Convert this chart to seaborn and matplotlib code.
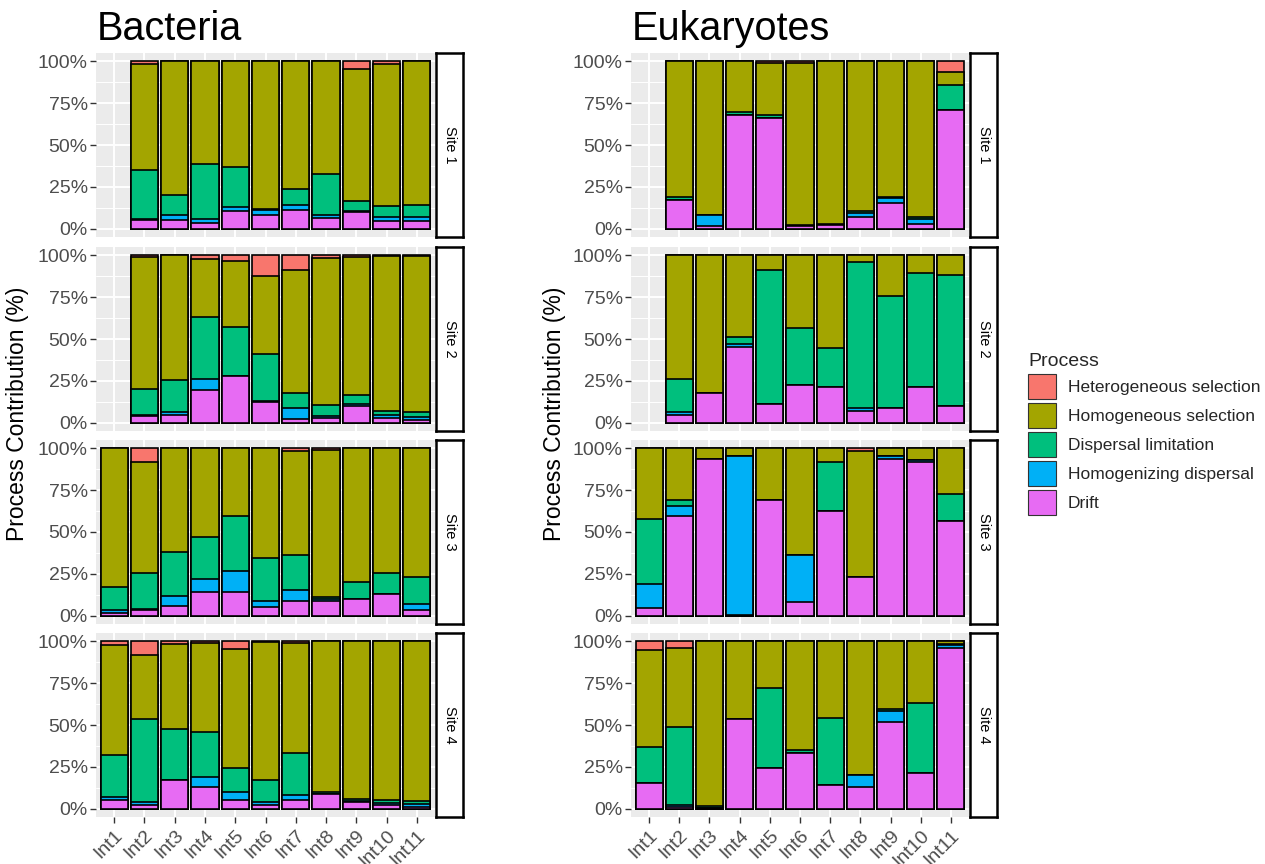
import numpy as np
import pandas as pd
import matplotlib
matplotlib.use("Agg")
import matplotlib.pyplot as plt
from matplotlib.patches import Patch
import seaborn as sns

INTERVALS = ['Int1', 'Int2', 'Int3', 'Int4', 'Int5', 'Int6',
             'Int7', 'Int8', 'Int9', 'Int10', 'Int11']
SITES = ['Site 1', 'Site 2', 'Site 3', 'Site 4']
PROCESSES = ['Heterogeneous selection', 'Homogeneous selection',
             'Dispersal limitation', 'Homogenizing dispersal', 'Drift']
COLORS = ['#F8766D', '#A3A500', '#00BF7D', '#00B0F6', '#E76BF3']
nan = np.nan

# 每个面板: 各过程贡献 (%)，顺序 Int1..Int11；nan = 该区间无数据
# 顺序: 异质选择, 同质选择, 扩散限制, 同质化扩散, 漂变
bac_site1 = {
    'het':   [nan, 1.5, 0, 0, 0, 0, 0, 0, 4.4, 1.8, 0],
    'hom':   [nan, 63.5, 80, 61.3, 63, 88, 76.6, 67.3, 79.2, 84.8, 86],
    'disp':  [nan, 29, 11.6, 32.7, 24, 1, 9.4, 24.8, 5.6, 6.6, 7],
    'hdisp': [nan, 1, 3, 2.6, 2.6, 3, 3, 1.5, 1, 2, 2.6],
    'drift': [nan, 5, 5.4, 3.4, 10.4, 8, 11, 6.4, 9.8, 4.8, 4.4],
}
bac_site2 = {
    'het':   [nan, 1, 0, 2, 3.4, 12.5, 8.5, 1.3, 1.2, 0.3, 0.3],
    'hom':   [nan, 79, 74.8, 34.7, 39.3, 46.6, 73.5, 88, 82.4, 93, 93.3],
    'disp':  [nan, 15.4, 18.9, 37.3, 29.7, 27.9, 9, 6.5, 5.2, 2.4, 3],
    'hdisp': [nan, 0.8, 1.5, 6.4, 0, 0.7, 6.6, 1.4, 1.5, 1.5, 2],
    'drift': [nan, 3.8, 4.8, 19.6, 27.6, 12.3, 2.4, 2.8, 9.7, 2.8, 1.4],
}
bac_site3 = {
    'het':   [0, 8, 0, 0, 0, 0, 1.4, 0.8, 0, 0, 0],
    'hom':   [82.8, 66.7, 62, 52.7, 40.3, 65.3, 62.6, 88, 79.8, 74.7, 77],
    'disp':  [14, 21.5, 26.2, 25.5, 33.3, 25.9, 20.4, 1.4, 10, 12.5, 16.2],
    'hdisp': [1.4, 0.6, 6, 7.4, 12, 3.4, 6.8, 1, 0, 0, 3.6],
    'drift': [1.8, 3.2, 5.8, 14.4, 14.4, 5.4, 8.8, 8.8, 10.2, 12.8, 3.2],
}
bac_site4 = {
    'het':   [2, 8.4, 1.5, 1, 4.4, 0.2, 0.8, 0, 0, 0, 0],
    'hom':   [65.7, 37.9, 50.8, 53.3, 71.2, 82.4, 66.2, 90, 94, 95, 95.6],
    'disp':  [25.5, 49.7, 30.3, 26.9, 14.6, 13.6, 25, 1, 1.4, 1.5, 1.5],
    'hdisp': [1.8, 2, 0, 5.8, 4.8, 1.4, 3, 0, 0.8, 1.5, 1.8],
    'drift': [5, 2, 17.4, 13, 5, 2.4, 5, 9, 3.8, 2, 1.1],
}
euk_site1 = {
    'het':   [nan, 0, 0, 0, 0.8, 0.8, 0, 0, 0, 0, 6.2],
    'hom':   [nan, 81.2, 91.6, 30.3, 31.3, 97.2, 97, 89.6, 81.2, 93.2, 8],
    'disp':  [nan, 1.4, 0.4, 1.8, 2, 0.5, 0.6, 0.8, 0.4, 1, 14.9],
    'hdisp': [nan, 0, 6.5, 0, 0, 0, 0, 2.8, 3, 2.8, 0],
    'drift': [nan, 17.4, 1.5, 67.9, 65.9, 1.5, 2.4, 6.8, 15.4, 3, 70.9],
}
euk_site2 = {
    'het':   [nan, 0, 0, 0, 0, 0, 0, 0, 0, 0, 0],
    'hom':   [nan, 73.8, 82.3, 48.6, 8.9, 43.3, 55.2, 4, 24.2, 10.3, 11.5],
    'disp':  [nan, 20, 0, 4.5, 80, 34.1, 23.2, 87.3, 67.1, 68.1, 78.8],
    'hdisp': [nan, 1.4, 0, 1.5, 0, 0, 0, 2, 0, 0, 0],
    'drift': [nan, 4.8, 17.7, 45.4, 11.1, 22.6, 21.6, 6.7, 8.7, 21.6, 9.7],
}
euk_site3 = {
    'het':   [0, 0, 0, 0, 0, 0, 0, 1.4, 0, 0, 0],
    'hom':   [42, 31, 6.4, 4.4, 30.7, 63.9, 8, 75.8, 4.4, 6.8, 27],
    'disp':  [38.8, 3.3, 0, 0, 0, 0, 29.3, 0, 0, 0, 16.7],
    'hdisp': [14.4, 6.4, 0, 95.3, 0, 27.9, 0, 0, 2, 1.6, 0],
    'drift': [4.8, 59.3, 93.6, 0.3, 69.3, 8.2, 62.7, 22.8, 93.6, 91.6, 56.3],
}
euk_site4 = {
    'het':   [5.2, 3.8, 0, 0, 0, 0, 0, 0, 0, 0, 0],
    'hom':   [57.9, 47.5, 98.6, 46.3, 27.7, 64.7, 45.7, 79.6, 40.7, 36.7, 1.4],
    'disp':  [21.5, 46.3, 0.9, 0, 48.3, 2.3, 39.9, 0, 1, 41.9, 0.8],
    'hdisp': [0, 1.4, 0, 0, 0, 0, 0, 7.4, 6.6, 0, 1.6],
    'drift': [15.4, 1, 0.5, 53.7, 24, 33, 14.4, 13, 51.7, 21.4, 96.2],
}

KEYS = ['het', 'hom', 'disp', 'hdisp', 'drift']
BACTERIA = [bac_site1, bac_site2, bac_site3, bac_site4]
EUKARYOTES = [euk_site1, euk_site2, euk_site3, euk_site4]

W, H = 1265, 864
ROWS = [(53, 237), (247, 431), (440, 624), (633, 817)]


def px_rect(x0, y0, x1, y1):
    return [x0 / W, 1 - y1 / H, (x1 - x0) / W, (y1 - y0) / H]


sns.set_theme(style="darkgrid")
plt.rcParams['font.family'] = ['Liberation Sans', 'DejaVu Sans']

fig = plt.figure(figsize=(W / 100, H / 100), dpi=100)


def draw_panel(ax, panel, bottom_row):
    df = pd.DataFrame({k: panel[k] for k in KEYS})
    df['Interval'] = INTERVALS
    df = df.dropna()
    vals = df[KEYS].to_numpy(dtype=float)
    vals = vals / vals.sum(axis=1, keepdims=True) * 100
    # 从底到顶: 漂变, 同质化扩散, 扩散限制, 同质选择, 异质选择
    cum = np.cumsum(vals[:, ::-1], axis=1)[:, ::-1]
    for i, key in enumerate(KEYS):
        layer = pd.DataFrame({'Interval': df['Interval'], 'value': cum[:, i]})
        sns.barplot(data=layer, x='Interval', y='value', order=INTERVALS,
                    color=COLORS[i], saturation=1, width=0.9, errorbar=None,
                    edgecolor='black', linewidth=1.2, ax=ax)

    ax.set_facecolor('#EBEBEB')
    ax.set_xlim(-0.6, 10.6)
    ax.set_ylim(-5, 105)
    ax.set_yticks([0, 25, 50, 75, 100])
    ax.set_yticklabels(['0%', '25%', '50%', '75%', '100%'])
    ax.set_yticks([12.5, 37.5, 62.5, 87.5], minor=True)
    ax.set_xticks(range(len(INTERVALS)))
    ax.set_axisbelow(True)
    ax.grid(which='major', color='white', linewidth=1.4)
    ax.grid(which='minor', axis='y', color='white', linewidth=0.7)
    ax.grid(which='minor', axis='x', visible=False)
    for s in ax.spines.values():
        s.set_visible(False)
    ax.set_xlabel('')
    ax.set_ylabel('')
    ax.tick_params(axis='y', which='major', length=4, width=1, color='#333333',
                   labelsize=14, labelcolor='#4D4D4D', pad=2, left=True)
    ax.tick_params(which='minor', length=0)
    if bottom_row:
        ax.set_xticklabels(INTERVALS, rotation=45, ha='right', va='top',
                           rotation_mode='anchor')
        ax.tick_params(axis='x', length=4, width=1, color='#333333',
                       labelsize=14, labelcolor='#4D4D4D', pad=3, bottom=True)
    else:
        ax.tick_params(axis='x', length=0, labelbottom=False)


def draw_strip(rect, label):
    sax = fig.add_axes(rect)
    sax.set_facecolor('white')
    sax.set_xticks([])
    sax.set_yticks([])
    sax.grid(False)
    for s in sax.spines.values():
        s.set_visible(True)
        s.set_color('black')
        s.set_linewidth(1.8)
    sax.text(0.5, 0.5, label, rotation=270, ha='center', va='center',
             fontsize=10.5, color='black', transform=sax.transAxes)


groups = [
    ('Bacteria', BACTERIA, (96, 435), (436, 463), 18),
    ('Eukaryotes', EUKARYOTES, (631, 969), (970, 997), 555),
]

for title, panels, (px0, px1), (sx0, sx1), ylab_x in groups:
    for r, (y0, y1) in enumerate(ROWS):
        ax = fig.add_axes(px_rect(px0, y0, px1, y1))
        draw_panel(ax, panels[r], r == len(ROWS) - 1)
        draw_strip(px_rect(sx0, y0, sx1, y1), SITES[r])
    fig.text((px0 + 1) / W, 1 - 40 / H, title, fontsize=28.5, ha='left',
             va='baseline', color='black')
    fig.text(ylab_x / W, 1 - 414 / H, 'Process Contribution (%)', rotation=90,
             ha='center', va='center', fontsize=16.5, color='black')

handles = [Patch(facecolor=c, edgecolor='#333333', linewidth=0.8) for c in COLORS]
fig.legend(handles, PROCESSES, loc='upper left',
           bbox_to_anchor=(1028 / W, 1 - 353 / H), frameon=False,
           title='Process', title_fontsize=14, fontsize=12.5,
           handlelength=1.6, handleheight=1.85, labelspacing=0.22,
           handletextpad=0.7, borderaxespad=0, borderpad=0,
           alignment='left')

fig.savefig('out.png', dpi=100)
